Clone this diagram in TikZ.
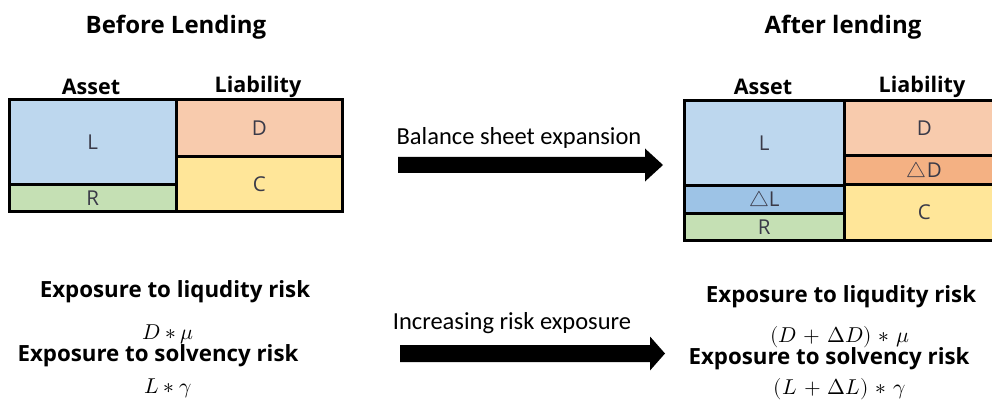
\documentclass[tikz,border=0pt]{standalone}
\usepackage{fontspec}
\usepackage{unicode-math}
\setmathfont{Latin Modern Math}
\newfontfamily\hfont{Open Sans}
\newfontfamily\afont{Carlito}
\definecolor{cL}{HTML}{BDD7EE}
\definecolor{cR}{HTML}{C5E0B4}
\definecolor{cD}{HTML}{F8CBAD}
\definecolor{cC}{HTML}{FFE699}
\definecolor{cdD}{HTML}{F4B183}
\definecolor{cdL}{HTML}{9DC3E6}
\definecolor{ink}{HTML}{3A3A48}
\begin{document}
\begin{tikzpicture}[x=1pt,y=-1pt,
  cell/.style={draw=black,line width=2.6pt,inner sep=0pt,anchor=north west,
     font=\hfont\fontsize{20.5}{20.5}\selectfont,text=ink},
  title/.style={font=\hfont\bfseries\fontsize{24}{24}\selectfont,inner sep=0pt},
  head/.style={font=\hfont\bfseries\fontsize{21.5}{21.5}\selectfont,inner sep=0pt},
  risk/.style={font=\hfont\bfseries\fontsize{22.3}{22.3}\selectfont,inner sep=0pt},
  formula/.style={font=\fontsize{21.5}{21.5}\selectfont,inner sep=0pt},
  arrtext/.style={font=\afont\fontsize{24.5}{24.5}\selectfont,inner sep=0pt},
  bigarrow/.style={fill=black}]
\useasboundingbox (0,0) rectangle (992,414);
\clip (0,0) rectangle (992,414);
\fill[white] (0,0) rectangle (992,414);

% titles
\node[title] (tb) at (176,27) {Before Lending};
\node[title] (ta) at (843,27) {After lending};

% left table
\node[head] (as1) at (91,87) {Asset};
\node[head] (li1) at (258,87) {Liability};
\node[cell,fill=cL,minimum width=167pt,minimum height=85pt] (L1) at (8,98) {L};
\node[cell,fill=cR,minimum width=167pt,minimum height=27pt] (R1) at (8,183) {R};
\node[cell,fill=cD,minimum width=166pt,minimum height=57pt] (D1) at (175,98) {D};
\node[cell,fill=cC,minimum width=166pt,minimum height=55pt] (C1) at (175,155) {C};

% right table
\node[head] (as2) at (763,87) {Asset};
\node[head] (li2) at (922,87) {Liability};
\node[cell,fill=cL,minimum width=160pt,minimum height=85pt] (L2) at (683,99) {L};
\node[cell,fill=cdL,minimum width=160pt,minimum height=28pt] (dL2) at (683,184) {$\bigtriangleup$L};
\node[cell,fill=cR,minimum width=160pt,minimum height=27pt] (R2) at (683,212) {R};
\node[cell,fill=cD,minimum width=160pt,minimum height=55pt] (D2) at (843,99) {D};
\node[cell,fill=cdD,minimum width=160pt,minimum height=29pt] (dD2) at (843,154) {$\bigtriangleup$D};
\node[cell,fill=cC,minimum width=160pt,minimum height=56pt] (C2) at (843,183) {C};

% arrows
\coordinate (a1s) at (398,165);
\coordinate (a1e) at (663,165);
\fill[bigarrow] (a1s) ++(0,8) -- ++(247,0) -- ++(0,8.5) -- (a1e)
   -- ++(-18,-16.5) -- ++(0,8.5) -- ++(-247,0) -- cycle;
\node[arrtext] (a1t) at (519,138) {Balance sheet expansion};
\coordinate (a2s) at (400,353.5);
\coordinate (a2e) at (665,353.5);
\fill[bigarrow] (a2s) ++(0,8.5) -- ++(250,0) -- ++(0,8.5) -- (a2e)
   -- ++(-15,-17) -- ++(0,8.5) -- ++(-250,0) -- cycle;
\node[arrtext] (a2t) at (512,323) {Increasing risk exposure};

% left risk texts
\node[risk] (r1) at (175,292) {Exposure to liqudity risk};
\node[formula] (f1) at (168,334) {$D \ast \mu$};
\node[risk] (r2) at (158,356) {Exposure to solvency risk};
\node[formula] (f2) at (168,388) {$L \ast \gamma$};

% right risk texts
\node[risk] (r3) at (841,297) {Exposure to liqudity risk};
\node[formula] (f3) at (840,337) {$(D\mkern2mu+\mkern2mu\Delta D)\mkern2mu\ast\mkern2mu\mu$};
\node[risk] (r4) at (829,359) {Exposure to solvency risk};
\node[formula] (f4) at (840,389) {$(L\mkern2mu+\mkern2mu\Delta L)\mkern2mu\ast\mkern2mu\gamma$};
\end{tikzpicture}
\end{document}
